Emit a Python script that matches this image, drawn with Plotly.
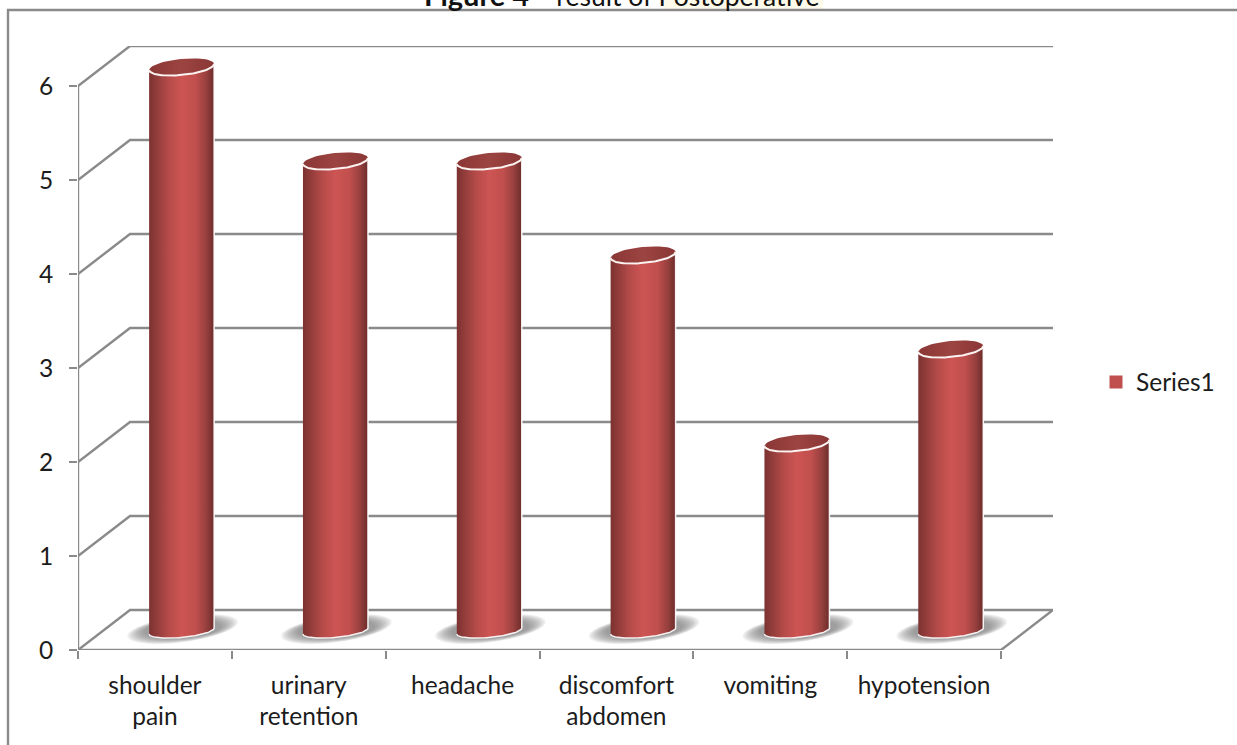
import numpy as np
import plotly.graph_objects as go

# Chart data
CATEGORIES = ["shoulder<br>pain", "urinary<br>retention", "headache",
              "discomfort<br>abdomen", "vomiting", "hypotension"]
VALUES = [6, 5, 5, 4, 2, 3]
SERIES_NAME = "Series1"
Y_TICKS = [0, 1, 2, 3, 4, 5, 6]

# Canvas and plot-area geometry (pixels)
W, H = 1237, 745
LEFT, BOTTOM, RIGHT, TOP = 78, 650, 1053, 46
UNIT_X = (1001 - 78) / 6      # pixels per category
UNIT_Y = (650 - 86) / 6       # pixels per value unit
DEPTH_X = 52 / UNIT_X         # oblique depth of the floor, in data units
DEPTH_Y = 40 / UNIT_Y

# Cylinder shape, in data units
RADIUS = 32.5 / UNIT_X
MINOR_TOP = 8 / UNIT_Y
MINOR_BASE = 6.5 / UNIT_Y
TILT = 3 / UNIT_Y
MID_X = 26.7 / UNIT_X
MID_Y = 19 / UNIT_Y

GRID = "#8a8a8a"
INK = "#1c1c1c"
RED = "#c0504d"
FONT = "Lato"
FONT_SIZE = 24.5
BODY_SCALE = [[0, "#7c3230"], [0.1, "#8e3b39"], [0.3, "#b54b49"], [0.5, "#cd5553"],
              [0.72, "#c04f4d"], [0.88, "#96403e"], [1, "#6c2c2a"]]
TOP_SCALE = [[0, "#8a3735"], [0.5, "#9c4442"], [1, "#8a3735"]]


def px_x(p):
    return (p - LEFT) / (RIGHT - LEFT)


def px_y(p):
    return (BOTTOM - p) / (BOTTOM - TOP)


fig = go.Figure()


def add_line(xs, ys, color=GRID, width=2.4):
    fig.add_trace(go.Scatter(x=xs, y=ys, mode="lines", showlegend=False, hoverinfo="skip",
                             cliponaxis=False, line=dict(color=color, width=width)))


def ellipse(cx, cy, a, b, k, start=0.0, stop=2 * np.pi, n=60):
    t = np.linspace(start, stop, n)
    return cx + a * np.cos(t), cy + b * np.sin(t) + k * np.cos(t)


# Walls and floor: each level runs from the front edge up to the back wall
for level in Y_TICKS:
    add_line([0, DEPTH_X, 6 + DEPTH_X], [level, level + DEPTH_Y, level + DEPTH_Y])
add_line([0, 0], [0, 6])
add_line([0, 6, 6 + DEPTH_X], [0, 0, DEPTH_Y])

for i, value in enumerate(VALUES):
    cx = i + 0.5 + MID_X
    cy0 = MID_Y
    cy1 = value + MID_Y

    # Soft floor shadow, built up from translucent sheared ellipses
    for grow in np.linspace(1.0, 0.4, 9):
        sx, sy = ellipse(cx + 1 / UNIT_X, cy0 + 2 / UNIT_Y,
                         RADIUS * (0.85 + 0.85 * grow),
                         11 / UNIT_Y * (0.6 + 0.6 * grow),
                         7 / UNIT_Y * grow)
        fig.add_trace(go.Scatter(x=sx, y=sy, mode="none", fill="toself", cliponaxis=False,
                                 fillcolor="rgba(110,110,110,0.11)", showlegend=False,
                                 hoverinfo="skip"))

    # Cylinder wall with a horizontal shading gradient
    bx, by = ellipse(cx, cy0, RADIUS, MINOR_BASE, TILT, np.pi, 2 * np.pi)
    tx, ty = ellipse(cx, cy1, RADIUS, MINOR_TOP, TILT, 0, np.pi)
    fig.add_trace(go.Scatter(
        x=np.r_[bx, tx], y=np.r_[by, ty], mode="lines", fill="toself", cliponaxis=False,
        line=dict(color="rgba(255,255,255,0.9)", width=1.5), showlegend=False, hoverinfo="skip",
        fillgradient=dict(type="horizontal", colorscale=BODY_SCALE,
                          start=cx - RADIUS, stop=cx + RADIUS)))

    # Cap of the cylinder and its bright front rim
    ex, ey = ellipse(cx, cy1, RADIUS, MINOR_TOP, TILT)
    fig.add_trace(go.Scatter(
        x=ex, y=ey, mode="lines", fill="toself", cliponaxis=False,
        line=dict(color="rgba(0,0,0,0)", width=0), showlegend=False, hoverinfo="skip",
        fillgradient=dict(type="horizontal", colorscale=TOP_SCALE,
                          start=cx - RADIUS, stop=cx + RADIUS)))
    rx, ry = ellipse(cx, cy1, RADIUS, MINOR_TOP, TILT, np.pi, 2 * np.pi)
    add_line(rx, ry, color="#fbf3f2", width=2)

# Legend entry for the single series
fig.add_trace(go.Scatter(x=[None], y=[None], mode="markers", name=SERIES_NAME,
                         marker=dict(symbol="square", size=13, color=RED)))

# Highlight behind the last word of the title
fig.add_shape(type="rect", xref="paper", yref="paper", layer="below",
              x0=px_x(663), x1=px_x(823), y0=px_y(9), y1=px_y(-2),
              fillcolor="#fffbea", line_width=0)

# Outer chart frame, open past the right and bottom edges of the page
fig.add_shape(type="path", xref="paper", yref="paper", layer="above",
              path=f"M {px_x(8)} {px_y(H + 5)} L {px_x(8)} {px_y(10)} L {px_x(W + 5)} {px_y(10)}",
              line=dict(color=GRID, width=2.4))

# Title, cut off by the top edge of the page
fig.add_annotation(text="<b style='font-size:29px'>Figure 4</b>\u00a0\u00a0\u00a0\u00a0result of Postoperative",
                   xref="paper", yref="paper",
                   x=px_x(822), xanchor="right", y=px_y(14), yanchor="bottom",
                   showarrow=False, font=dict(family=FONT, size=26.5, color="#111111"))

fig.update_layout(
    width=W, height=H,
    margin=dict(l=LEFT, r=W - RIGHT, t=TOP, b=H - BOTTOM, autoexpand=False),
    paper_bgcolor="white", plot_bgcolor="white",
    font=dict(family=FONT, color=INK, size=FONT_SIZE),
    showlegend=True,
    legend=dict(x=px_x(1096), xanchor="left", y=px_y(382), yanchor="middle",
                font=dict(family=FONT, size=FONT_SIZE, color=INK), bgcolor="rgba(0,0,0,0)",
                itemwidth=30),
    xaxis=dict(range=[0, (RIGHT - LEFT) / UNIT_X], showgrid=False, zeroline=False, showline=False,
               tickvals=[i + 0.5 for i in range(len(CATEGORIES))], ticktext=CATEGORIES,
               ticks="", tickangle=0, tickfont=dict(family=FONT, size=FONT_SIZE, color=INK),
               ticklabelstandoff=18,
               minor=dict(tickvals=list(range(7)), ticks="outside", ticklen=8, tickwidth=2,
                          tickcolor=GRID, showgrid=False)),
    yaxis=dict(range=[0, (BOTTOM - TOP) / UNIT_Y], showgrid=False, zeroline=False, showline=False,
               tickvals=Y_TICKS, ticks="outside", ticklen=8, tickwidth=2, tickcolor=GRID,
               tickfont=dict(family=FONT, size=FONT_SIZE, color=INK), ticklabelstandoff=11),
)

fig.write_html("out.html")
